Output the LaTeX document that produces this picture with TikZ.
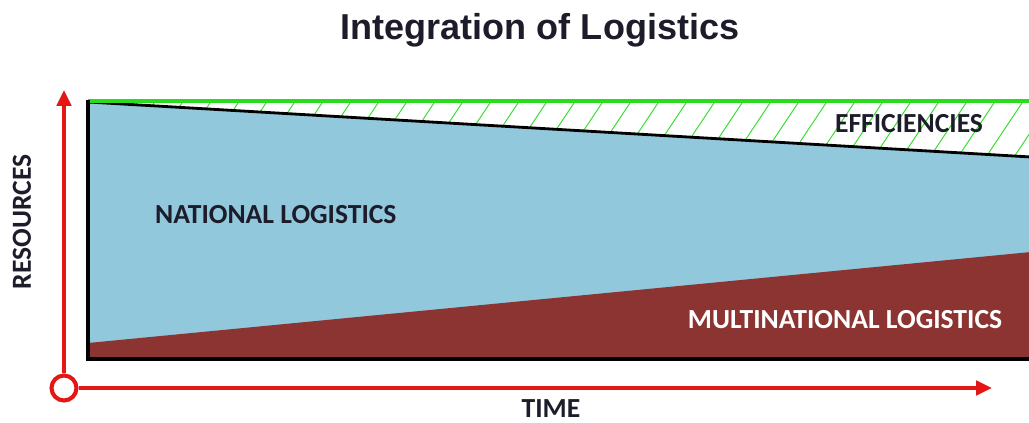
\documentclass[tikz,border=0pt]{standalone}
\usepackage{fontspec}
\setmainfont{Carlito}
\newfontfamily\titlefont{Liberation Sans}
\usetikzlibrary{arrows.meta,positioning}
\definecolor{natblue}{RGB}{146,200,220}
\definecolor{multired}{RGB}{140,52,50}
\definecolor{effgreen}{RGB}{40,220,30}
\definecolor{axisred}{RGB}{228,22,22}
\definecolor{inkdark}{RGB}{28,28,42}
\tikzset{
  axis/.style={axisred,line width=2.3pt,-{Triangle[length=9pt,width=8pt]}},
  lbl/.style={font=\bfseries\fontsize{15.7}{18}\selectfont,text=inkdark,inner sep=1pt}
}

\begin{document}
\begin{tikzpicture}[x=0.02cm,y=-0.02cm]
\useasboundingbox (0,0) rectangle (1029,423);

\fill[natblue] (88,102) -- (1031,157) -- (1031,360) -- (88,360) -- cycle;
\fill[multired] (88,343) -- (1031,252) -- (1031,360) -- (88,360) -- cycle;

\begin{scope}
\clip (88,101) -- (1031,101) -- (1031,157) -- (88,102) -- cycle;
\foreach \i in {0,...,40}
  \draw[effgreen,line width=0.5pt] (60+28*\i,160) -- (100+28*\i,100);
\end{scope}

\draw[line width=1.6pt] (88,102) -- (1031,157);
\draw[effgreen,line width=2.5pt] (88,101) -- (1031,101);
\draw[line width=2.8pt] (88,100) -- (88,359) -- (1031,359);

\node[circle,draw=axisred,fill=white,line width=2.3pt,minimum size=0.5cm,inner sep=0pt] (origin) at (64,388) {};
\coordinate (ytip) at (64,90);
\coordinate (xtip) at (992,388);
\draw[axis] (origin) -- (ytip);
\draw[axis] (origin) -- (xtip);

\node[font=\titlefont\bfseries\fontsize{20.5}{24}\selectfont,text=inkdark] (title) at (540,30) {Integration of Logistics};
\node[lbl,rotate=90] (resources) at (22,222) {RESOURCES};
\node[lbl] (time) at (551,409) {TIME};
\node[lbl,anchor=west] (national) at (153,215) {NATIONAL LOGISTICS};
\node[lbl,text=white] (multi) at (845,320) {MULTINATIONAL LOGISTICS};
\node[lbl] (eff) at (909,124) {EFFICIENCIES};
\end{tikzpicture}
\end{document}
